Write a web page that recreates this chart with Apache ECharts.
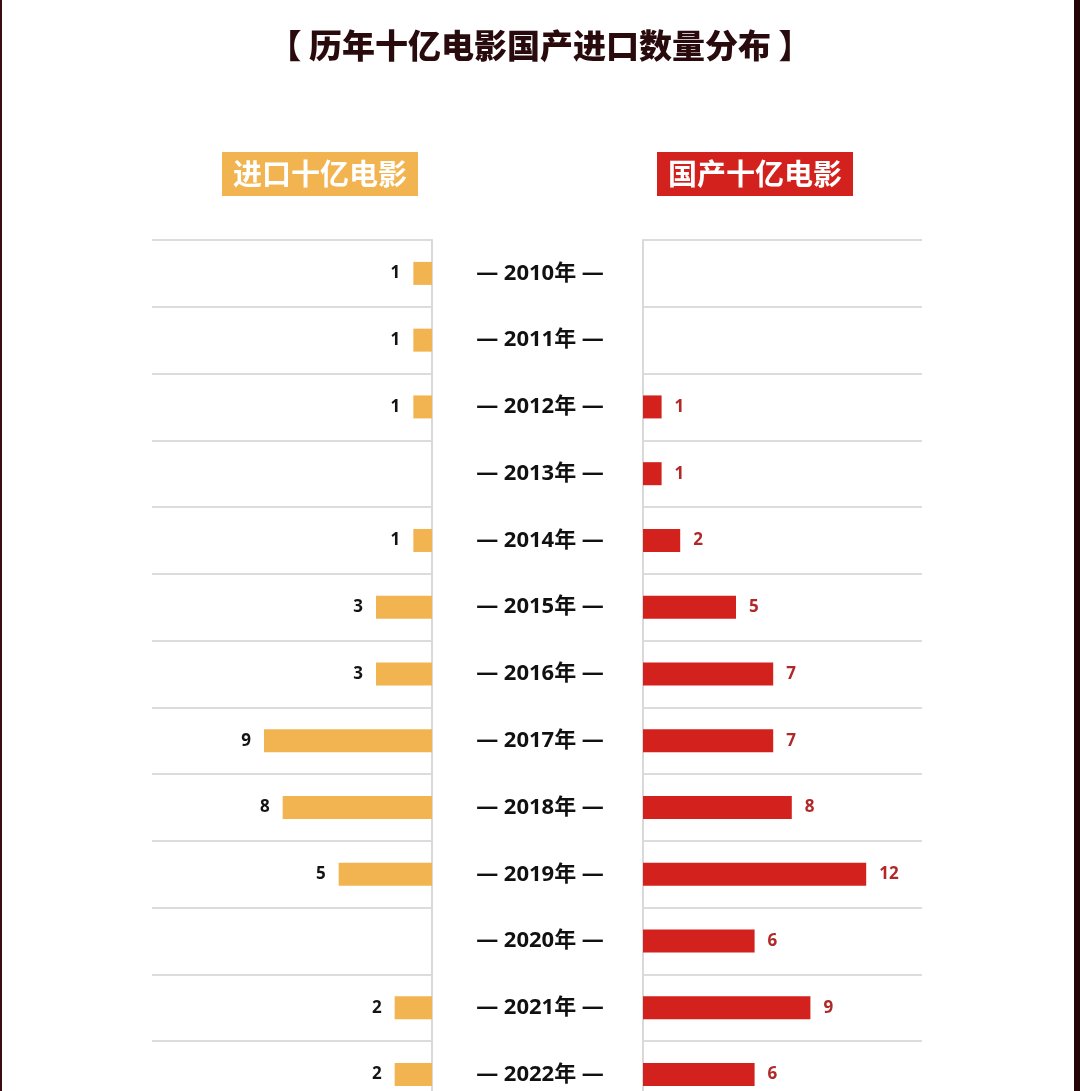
<!DOCTYPE html>
<html><head><meta charset="utf-8">
<script src="https://cdn.jsdelivr.net/npm/echarts@6/dist/echarts.min.js"></script>
<style>html,body{margin:0;padding:0;background:#fff}#c{width:1080px;height:1091px}</style>
</head><body><div id="c"></div>
<script>
const years = ['2010','2011','2012','2013','2014','2015','2016','2017','2018','2019','2020','2021','2022'];
const imported = [1,1,1,null,1,3,3,9,8,5,null,2,2];
const domestic = [null,null,1,1,2,5,7,7,8,12,6,9,6];
const mainTitle = '【 历年十亿电影国产进口数量分布 】';
const leftHeader = '进口十亿电影';
const rightHeader = '国产十亿电影';

const YELLOW = '#F1B451';
const RED = '#D3211D';
const numFont = '"Open Sans","Noto Sans CJK SC",sans-serif';
const cjk = '"Noto Sans CJK SC","Noto Sans",sans-serif';

const chart = echarts.init(document.getElementById('c'));
chart.setOption({
  backgroundColor: '#fff',
  animation: false,
  title: [
    {text: mainTitle, left: 'center', top: 24,
     textStyle: {fontFamily: cjk, fontWeight: 900, fontSize: 33, color: '#2a0b0d'}},
    {text: leftHeader, left: 222, top: 152, backgroundColor: YELLOW, padding: [6, 11, 6, 11],
     textStyle: {fontFamily: cjk, fontWeight: 'bold', fontSize: 29, lineHeight: 32, color: '#fff'}},
    {text: rightHeader, left: 657, top: 152, backgroundColor: RED, padding: [6, 11, 6, 11],
     textStyle: {fontFamily: cjk, fontWeight: 'bold', fontSize: 29, lineHeight: 32, color: '#fff'}}
  ],
  graphic: [
    {type: 'rect', left: 0, top: 0, shape: {width: 2, height: 1091}, style: {fill: '#3a0c12'}},
    {type: 'rect', right: 0, top: 0, shape: {width: 6, height: 1091}, style: {fill: '#250606'}}
  ],
  grid: [
    {left: 152, width: 280, top: 240, height: 868, outerBoundsMode: 'none', containLabel: false},
    {left: 643, width: 279, top: 240, height: 868, outerBoundsMode: 'none', containLabel: false}
  ],
  xAxis: [
    {type: 'value', gridIndex: 0, min: 0, max: 15, inverse: true, show: false, splitLine: {show: false}},
    {type: 'value', gridIndex: 1, min: 0, max: 15, show: false, splitLine: {show: false}}
  ],
  yAxis: [
    {type: 'category', gridIndex: 0, data: years, inverse: true, position: 'right',
     axisLine: {show: true, lineStyle: {color: '#d9d9d9', width: 2}},
     axisTick: {show: false},
     splitLine: {show: true, lineStyle: {color: '#dcdcdc', width: 2}},
     axisLabel: {show: true, margin: 108, align: 'center',
       formatter: v => '— ' + v + '年 —',
       fontFamily: numFont, fontWeight: 'bold', fontSize: 22, color: '#111'}},
    {type: 'category', gridIndex: 1, data: years, inverse: true, position: 'left',
     axisLine: {show: true, lineStyle: {color: '#d9d9d9', width: 2}},
     axisTick: {show: false},
     splitLine: {show: true, lineStyle: {color: '#dcdcdc', width: 2}},
     axisLabel: {show: false}}
  ],
  series: [
    {type: 'bar', xAxisIndex: 0, yAxisIndex: 0, data: imported, barWidth: 23,
     itemStyle: {color: YELLOW},
     label: {show: true, position: 'left', distance: 13, fontFamily: numFont, fontWeight: 'bold', fontSize: 17, color: '#141414'}},
    {type: 'bar', xAxisIndex: 1, yAxisIndex: 1, data: domestic, barWidth: 23,
     itemStyle: {color: RED},
     label: {show: true, position: 'right', distance: 13, fontFamily: numFont, fontWeight: 'bold', fontSize: 17, color: '#B02828'}}
  ]
});
</script></body></html>
